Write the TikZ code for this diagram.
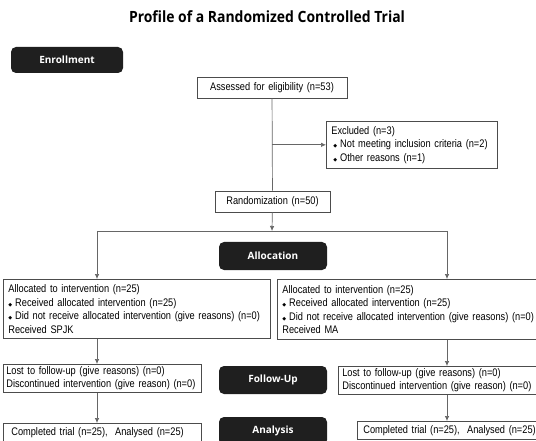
\documentclass[tikz,border=0pt]{standalone}
\usepackage{fontspec}
\setmainfont[FakeStretch=0.84]{Liberation Sans}
\newfontfamily\titlefont[FakeStretch=0.9]{Open Sans}
\newfontfamily\tagfont{Open Sans}
\newfontfamily\symfont{DejaVu Sans}
\usetikzlibrary{arrows.meta,positioning,calc}
\newcommand{\dia}{{\symfont\fontsize{5}{5}\selectfont ◆}\hspace{3pt}}

\begin{document}
\begin{tikzpicture}[
    x=1pt, y=-1pt,
    box/.style={rectangle, draw=black!70, line width=0.7pt, fill=white, anchor=north west, align=left, inner xsep=5pt, inner ysep=0pt, font=\fontsize{11}{13.5}\selectfont},
    tag/.style={rectangle, rounded corners=5pt, fill=black!88, text=white, minimum width=108pt, minimum height=28pt, font=\tagfont\bfseries\fontsize{10}{12}\selectfont},
    line/.style={draw=black!60, line width=0.7pt},
    arrow/.style={line, -{Latex[length=5pt,width=4.5pt]}}
]
\useasboundingbox (0,0) rectangle (536,441);
\clip (0,0) rectangle (536,441);

% Title
\node[font=\titlefont\bfseries\fontsize{15.5}{18}\selectfont] (title) at (267,17) {Profile of a Randomized Controlled Trial};

% Stage tags
\node[tag, minimum width=112pt, minimum height=26pt] (enroll) at (67,60) {Enrollment};
\node[tag] (alloc) at (273,256) {Allocation};
\node[tag] (follow) at (273,380) {Follow-Up};
\node[tag] (analysis) at (273,431) {Analysis};

% Enrollment boxes
\node[box, anchor=center, align=center, text width=140pt, minimum height=21pt] (assess) at (272,87.5) {Assessed for eligibility (n=53)};
\node[box, text width=161pt, minimum height=47pt] (excl) at (326,121) {Excluded (n=3)\\
\hspace*{2pt}\dia Not meeting inclusion criteria (n=2)\\
\hspace*{2pt}\dia Other reasons (n=1)};
\node[box, anchor=center, align=center, text width=105pt, minimum height=21pt] (rand) at (272.5,201.5) {Randomization (n=50)};

% Allocation boxes
\node[box, text width=257pt, minimum height=59pt] (allocL) at (3,279) {Allocated to intervention (n=25)\\
\dia Received allocated intervention (n=25)\\
\dia Did not receive allocated intervention (give reasons) (n=0)\\
Received SPJK};
\node[box, text width=257pt, minimum height=60pt] (allocR) at (277,279) {Allocated to intervention (n=25)\\
\dia Received allocated intervention (n=25)\\
\dia Did not receive allocated intervention (give reasons) (n=0)\\
Received MA};

% Follow-up boxes
\node[box, inner xsep=3pt, text width=192pt, minimum height=28pt] (followL) at (3,364) {Lost to follow-up (give reasons) (n=0)\\
Discontinued intervention (give reason) (n=0)};
\node[box, inner xsep=4pt, text width=192pt, minimum height=28pt] (followR) at (338,366) {Lost to follow-up (give reasons) (n=0)\\
Discontinued intervention (give reason) (n=0)};

% Analysis boxes
\node[box, inner xsep=8pt, inner ysep=4pt, text width=182pt] (analysL) at (3,423) {Completed trial (n=25),~ Analysed (n=25)};
\node[box, inner xsep=6pt, inner ysep=4pt, text width=185pt] (analysR) at (357,421) {Completed trial (n=25),~ Analysed (n=25)};

% Split points
\coordinate (split) at (272,231);
\coordinate (splitL) at (97,231);
\coordinate (splitR) at (447,231);

% Connectors
\draw[line] (assess) -- (rand);
\draw[arrow] (assess.south |- excl.west) -- (excl.west);
\draw[arrow] (rand) -- (split);
\draw[line] (splitL) -- (splitR);
\draw[arrow] (splitL) -- (splitL |- allocL.north);
\draw[arrow] (splitR) -- (splitR |- allocR.north);
\draw[arrow] (splitL |- allocL.south) -- (splitL |- followL.north);
\draw[arrow] (splitR |- allocR.south) -- (splitR |- followR.north);
\draw[arrow] (splitL |- followL.south) -- (splitL |- analysL.north);
\draw[arrow] (splitR |- followR.south) -- (splitR |- analysR.north);

\end{tikzpicture}
\end{document}
